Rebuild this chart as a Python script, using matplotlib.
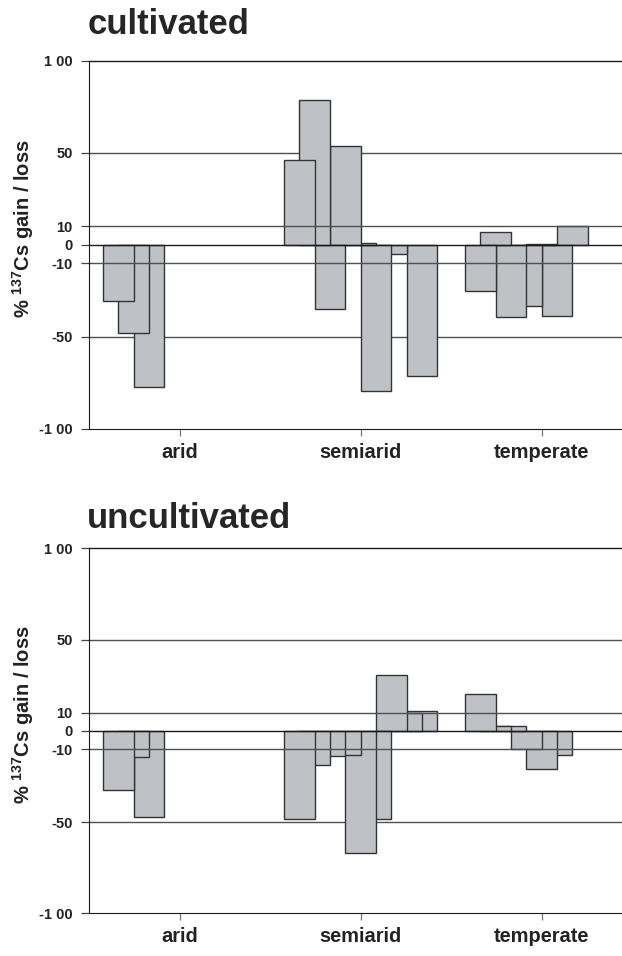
import matplotlib
matplotlib.use("Agg")
import matplotlib.pyplot as plt
import numpy as np

nan = np.nan

# climate zones on the x axis
climates = ["arid", "semiarid", "temperate"]

# % 137Cs gain / loss, one value per site (slot) inside each climate group
cult_arid = [-30.4, -48.2, -77.2]
cult_semiarid = [46.1, 78.8, -34.9, 53.6, 1.0, -79.6, -5.0, nan, -71.1]
cult_temperate = [-25.1, 6.9, -39.2, -33.4, 0.5, -38.5, 10.0]

uncult_arid = [-32.7, -14.4, -47.3]
uncult_semiarid = [-48.2, -18.8, -13.9, -13.2, -67.0, -48.2, 30.8, 10.0, 11.1]
uncult_temperate = [20.0, 2.9, 2.4, -10.2, -20.8, -13.2]

ytick_vals = [-100, -50, -10, 0, 10, 50, 100]
ytick_text = ["-1 00", "-50", "-10", "0", "10", "50", "1 00"]

BAR_FILL = "#bec2c6"
BAR_EDGE = "#333333"
GRID = "#505050"
TEXT = "#222222"

plt.rcParams.update({
    "font.family": ["Liberation Sans", "DejaVu Sans"],
    "font.weight": "bold",
    "mathtext.fontset": "custom",
    "mathtext.rm": "Liberation Sans:bold",
    "mathtext.bf": "Liberation Sans:bold",
})

W, H = 622, 956
fig = plt.figure(figsize=(W / 100, H / 100), dpi=100)

STEP = 0.0847  # slot offset, bars are two slots wide (50% overlap)


def panel(top_px, bottom_px, groups, title, title_base_px, label_center_px):
    ax = fig.add_axes([89.3 / W, 1 - bottom_px / H, 543 / W, (bottom_px - top_px) / H])
    for i, vals in enumerate(groups):
        for k, v in enumerate(vals):
            if np.isnan(v):
                continue
            ax.bar(i + (k - 4) * STEP, v, width=2 * STEP, color=BAR_FILL,
                   edgecolor=BAR_EDGE, linewidth=1.0, zorder=20 - k)

    # reference lines: the +/-10 and 0 lines sit on top of the bars
    for yv in ytick_vals:
        if yv == -100:
            continue
        on_top = yv in (-10, 0, 10)
        ax.axhline(yv, color="#1a1a1a" if yv in (0, 100) else GRID,
                   lw=1.0, zorder=40 if on_top else 1, clip_on=False)

    ax.set_xlim(-0.5, 2.5)
    ax.set_ylim(-100, 100)
    for side in ("top", "right"):
        ax.spines[side].set_visible(False)
    ax.spines["left"].set_color("#1a1a1a")
    ax.spines["bottom"].set_color("#1a1a1a")
    ax.spines["left"].set_zorder(50)

    ax.set_yticks(ytick_vals)
    ax.set_yticklabels(ytick_text, fontsize=10.5, fontweight="bold", color=TEXT)
    ax.tick_params(axis="y", direction="out", length=6, width=0.9, color="#444", pad=6)
    ax.set_xticks(range(len(climates)))
    ax.set_xticklabels(climates, fontsize=14.4, fontweight="bold", color=TEXT)
    ax.tick_params(axis="x", direction="out", length=5, width=0.9, color="#777", pad=5)

    fig.text(87.3 / W, 1 - title_base_px / H, title, fontsize=25, fontweight="bold",
             color="#262626", ha="left", va="baseline")
    fig.text(23 / W, 1 - label_center_px / H, r"% $^{137}$Cs gain / loss",
             rotation=90, fontsize=14.5, fontweight="bold", color=TEXT,
             ha="center", va="center")
    return ax


panel(61.0, 428.7, [cult_arid, cult_semiarid, cult_temperate],
      "cultivated", 34.3, 229)
panel(548.3, 913.3, [uncult_arid, uncult_semiarid, uncult_temperate],
      "uncultivated", 528.3, 715)

fig.savefig("out.png", dpi=100)
